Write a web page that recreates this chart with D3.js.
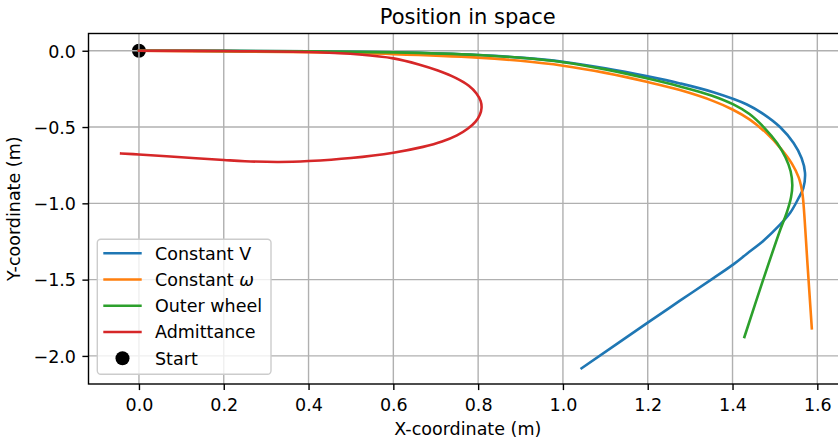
<!DOCTYPE html>
<html>
<head>
<meta charset="utf-8">
<script src="https://cdn.jsdelivr.net/npm/d3@7"></script>
<style>
  body { margin: 0; background: white; }
  text { font-family: "DejaVu Sans", sans-serif; }
</style>
</head>
<body>
<svg id="chart" width="838" height="443"></svg>
<script>
// data, [x, y] in metres
const constantV = [[0,0],[0.2,-0.001],[0.4,-0.004],[0.6,-0.011],[0.8,-0.028],[0.9,-0.045],[1.0,-0.072],[1.1,-0.115],[1.2,-0.168],[1.276,-0.214],[1.355,-0.272],[1.434,-0.352],[1.473,-0.415],[1.512,-0.5],[1.544,-0.605],[1.563,-0.705],[1.571,-0.8],[1.567,-0.9],[1.555,-0.97],[1.536,-1.062],[1.512,-1.14],[1.473,-1.245],[1.434,-1.33],[1.402,-1.4],[1.355,-1.49],[1.276,-1.638],[1.2,-1.782],[1.044,-2.081]]
const constantW = [[0,0],[0.2,-0.004],[0.4,-0.01],[0.6,-0.022],[0.8,-0.045],[0.9,-0.066],[1.0,-0.098],[1.1,-0.145],[1.2,-0.205],[1.276,-0.258],[1.355,-0.33],[1.4,-0.385],[1.44,-0.45],[1.48,-0.54],[1.512,-0.635],[1.54,-0.74],[1.556,-0.83],[1.564,-0.92],[1.567,-0.99],[1.577,-1.405],[1.587,-1.819]]
const outerWheel = [[0,0],[0.2,-0.001],[0.4,-0.004],[0.6,-0.011],[0.8,-0.028],[0.9,-0.046],[1.0,-0.075],[1.1,-0.122],[1.2,-0.182],[1.276,-0.234],[1.35,-0.293],[1.402,-0.352],[1.44,-0.415],[1.475,-0.505],[1.505,-0.605],[1.525,-0.7],[1.537,-0.79],[1.541,-0.88],[1.538,-0.96],[1.528,-1.06],[1.513,-1.17],[1.47,-1.52],[1.428,-1.876]]
const admittance = [[0,0],[0.2,-0.002],[0.42,-0.01],[0.52,-0.025],[0.6,-0.05],[0.66,-0.09],[0.705,-0.13],[0.748,-0.18],[0.778,-0.23],[0.796,-0.28],[0.806,-0.33],[0.808,-0.375],[0.804,-0.42],[0.794,-0.465],[0.776,-0.51],[0.75,-0.555],[0.715,-0.595],[0.67,-0.63],[0.6,-0.668],[0.5,-0.703],[0.4,-0.723],[0.33,-0.729],[0.25,-0.724],[0.2,-0.716],[0.1,-0.698],[0,-0.68],[-0.042,-0.673]]
const startPoint = [[0, 0]]

const seriesNames = ["Constant V", "Constant ", "Outer wheel", "Admittance"]
const seriesColors = ["#1f77b4", "#ff7f0e", "#2ca02c", "#d62728"]
const xTicks = [0, 0.2, 0.4, 0.6, 0.8, 1.0, 1.2, 1.4, 1.6]
const yTicks = [0, -0.5, -1.0, -1.5, -2.0]

const plotLeft = 88.5, plotRight = 847, plotTop = 33.5, plotBottom = 384
const fontSize = "17.5px"
const lineWidth = 2.6

const svg = d3.select("#chart")

const x = d3.scaleLinear().domain([-0.119, 1.67]).range([plotLeft, plotRight])
const y = d3.scaleLinear().domain([-2.184, 0.113]).range([plotBottom, plotTop])

svg.append("clipPath").attr("id", "plotclip")
  .append("rect")
  .attr("x", plotLeft).attr("y", plotTop)
  .attr("width", plotRight - plotLeft).attr("height", plotBottom - plotTop)

// start marker sits under grid and lines, like matplotlib zorder
svg.append("g").attr("clip-path", "url(#plotclip)")
  .selectAll("circle").data(startPoint).join("circle")
  .attr("cx", d => x(d[0]))
  .attr("cy", d => y(d[1]))
  .attr("r", 7)
  .attr("fill", "black")

// grid
const grid = svg.append("g")
grid.selectAll(".vgrid").data(xTicks).join("line")
  .attr("x1", d => x(d)).attr("x2", d => x(d))
  .attr("y1", plotTop).attr("y2", plotBottom)
  .attr("stroke", "#b0b0b0").attr("stroke-width", 1.4)
grid.selectAll(".hgrid").data(yTicks).join("line")
  .attr("x1", plotLeft).attr("x2", plotRight)
  .attr("y1", d => y(d)).attr("y2", d => y(d))
  .attr("stroke", "#b0b0b0").attr("stroke-width", 1.4)

// trajectories
const line = d3.line()
  .x(d => x(d[0]))
  .y(d => y(d[1]))
  .curve(d3.curveCatmullRom.alpha(0.5))

const allSeries = [constantV, constantW, outerWheel, admittance]
svg.append("g").attr("clip-path", "url(#plotclip)")
  .selectAll("path").data(allSeries).join("path")
  .attr("d", line)
  .attr("fill", "none")
  .attr("stroke", (d, i) => seriesColors[i])
  .attr("stroke-width", lineWidth)
  .attr("stroke-linejoin", "round")
  .attr("stroke-linecap", "square")

// axes
const xAxis = svg.append("g")
  .attr("transform", `translate(0,${plotBottom})`)
  .call(d3.axisBottom(x).tickValues(xTicks).tickFormat(d3.format(".1f")).tickSize(6.1).tickPadding(8.5))
const yAxis = svg.append("g")
  .attr("transform", `translate(${plotLeft},0)`)
  .call(d3.axisLeft(y).tickValues(yTicks).tickFormat(d3.format(".1f")).tickSize(6.1).tickPadding(6.4))

for (const ax of [xAxis, yAxis]) {
  ax.select(".domain").remove()
  ax.selectAll(".tick line").attr("stroke", "black").attr("stroke-width", 1.4)
  ax.selectAll(".tick text")
    .attr("fill", "black")
    .style("font-size", fontSize)
    .style("font-family", "DejaVu Sans")
}
yAxis.selectAll(".tick text").attr("dy", "0.36em")

// spines
svg.append("rect")
  .attr("x", plotLeft).attr("y", plotTop)
  .attr("width", plotRight - plotLeft).attr("height", plotBottom - plotTop)
  .attr("fill", "none")
  .attr("stroke", "black")
  .attr("stroke-width", 1.4)

// labels
svg.append("text")
  .attr("x", (plotLeft + plotRight) / 2).attr("y", 23.5)
  .attr("text-anchor", "middle")
  .style("font-size", "21px")
  .text("Position in space")

svg.append("text")
  .attr("x", (plotLeft + plotRight) / 2).attr("y", 435)
  .attr("text-anchor", "middle")
  .style("font-size", fontSize)
  .text("X-coordinate (m)")

svg.append("text")
  .attr("transform", `translate(20,${(plotTop + plotBottom) / 2}) rotate(-90)`)
  .attr("text-anchor", "middle")
  .style("font-size", fontSize)
  .text("Y-coordinate (m)")

// legend
const legend = svg.append("g")
legend.append("rect")
  .attr("x", 97.3).attr("y", 239.3)
  .attr("width", 173.7).attr("height", 135)
  .attr("rx", 3.5).attr("ry", 3.5)
  .attr("fill", "white").attr("fill-opacity", 0.8)
  .attr("stroke", "#cccccc").attr("stroke-width", 1.4)

const rowY = i => 253.3 + i * 26.25
seriesNames.forEach((name, i) => {
  legend.append("line")
    .attr("x1", 104.6).attr("x2", 140.4)
    .attr("y1", rowY(i)).attr("y2", rowY(i))
    .attr("stroke", seriesColors[i])
    .attr("stroke-width", lineWidth)
    .attr("stroke-linecap", "square")
  const t = legend.append("text")
    .attr("x", 155).attr("y", rowY(i)).attr("dy", "0.365em")
    .style("font-size", fontSize)
    .style("white-space", "pre")
    .text(name)
  // the omega is set as math italic in the original
  if (i == 1) t.append("tspan").style("font-style", "italic").text("\u03c9")
})
legend.append("circle")
  .attr("cx", 122.5).attr("cy", rowY(4))
  .attr("r", 7).attr("fill", "black")
legend.append("text")
  .attr("x", 155).attr("y", rowY(4)).attr("dy", "0.365em")
  .style("font-size", fontSize)
  .text("Start")
</script>
</body>
</html>
